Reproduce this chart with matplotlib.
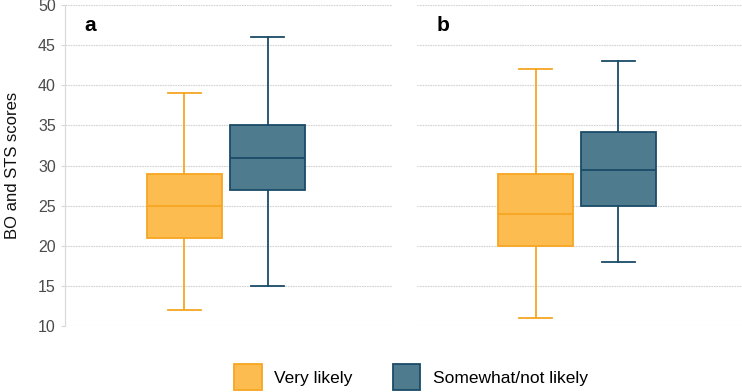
import matplotlib
matplotlib.use("Agg")
import matplotlib.pyplot as plt
from matplotlib.patches import Patch

plt.rcParams['font.family'] = ['Liberation Sans', 'DejaVu Sans']

groups = ["Very likely", "Somewhat/not likely"]
panels = ["a", "b"]
# per panel, per group: (whislo, q1, med, q3, whishi)
stats_a = [(12, 21, 25, 29, 39), (15, 27, 31, 35, 46)]
stats_b = [(11, 20, 24, 29, 42), (18, 25, 29.5, 34.2, 43)]
yticks = [10, 15, 20, 25, 30, 35, 40, 45, 50]

fills = ["#FDBC4F", "#4F7B8F"]
edges = ["#F7A623", "#1B4B68"]

fig = plt.figure(figsize=(7.42, 3.92), dpi=100)
ax_a = fig.add_axes([0.0876, 0.168, 0.4407, 0.819])
ax_b = fig.add_axes([0.562, 0.168, 0.438, 0.819])

for ax, label, stats in [(ax_a, "a", stats_a), (ax_b, "b", stats_b)]:
    bxp = []
    for s in stats:
        bxp.append(dict(whislo=s[0], q1=s[1], med=s[2], q3=s[3], whishi=s[4], fliers=[]))
    for i, d in enumerate(bxp):
        ax.bxp([d], positions=[i], widths=0.9, patch_artist=True, showfliers=False,
               boxprops=dict(facecolor=fills[i], edgecolor=edges[i], linewidth=1.3),
               medianprops=dict(color=edges[i], linewidth=1.3),
               whiskerprops=dict(color=edges[i], linewidth=1.3),
               capprops=dict(color=edges[i], linewidth=1.3),
               capwidths=0.4, zorder=3)
    ax.set_xlim(-1.43, 2.49)
    ax.set_ylim(10, 50)
    ax.set_yticks(yticks)
    ax.yaxis.grid(True, color="#D2D2D2", linestyle=(0, (1.5, 0.8)), linewidth=0.8, zorder=0)
    ax.set_xticks([])
    for sp in ["top", "right", "bottom"]:
        ax.spines[sp].set_visible(False)
    ax.text(0.06, 0.935, label, transform=ax.transAxes, fontsize=15, fontweight="bold",
            va="center", ha="left")

ax_a.spines["left"].set_color("#D8D8D8")
ax_a.tick_params(axis="y", colors="#D8D8D8", labelcolor="#4A4A4A", labelsize=11.5, length=3)
ax_a.set_ylabel("BO and STS scores", fontsize=12, color="#111111", labelpad=13)
ax_b.spines["left"].set_visible(False)
ax_b.tick_params(axis="y", left=False, labelleft=False)

handles = [Patch(facecolor=fills[i], edgecolor=edges[i], linewidth=1.3, label=groups[i]) for i in range(2)]
fig.legend(handles=handles, loc="center", bbox_to_anchor=(0.554, 0.038), ncol=2, frameon=False,
           fontsize=12.5, handlelength=1.6, handleheight=1.9, columnspacing=2.3,
           handletextpad=0.73, borderpad=0.0, borderaxespad=0.0)

fig.savefig("out.png", dpi=100)
